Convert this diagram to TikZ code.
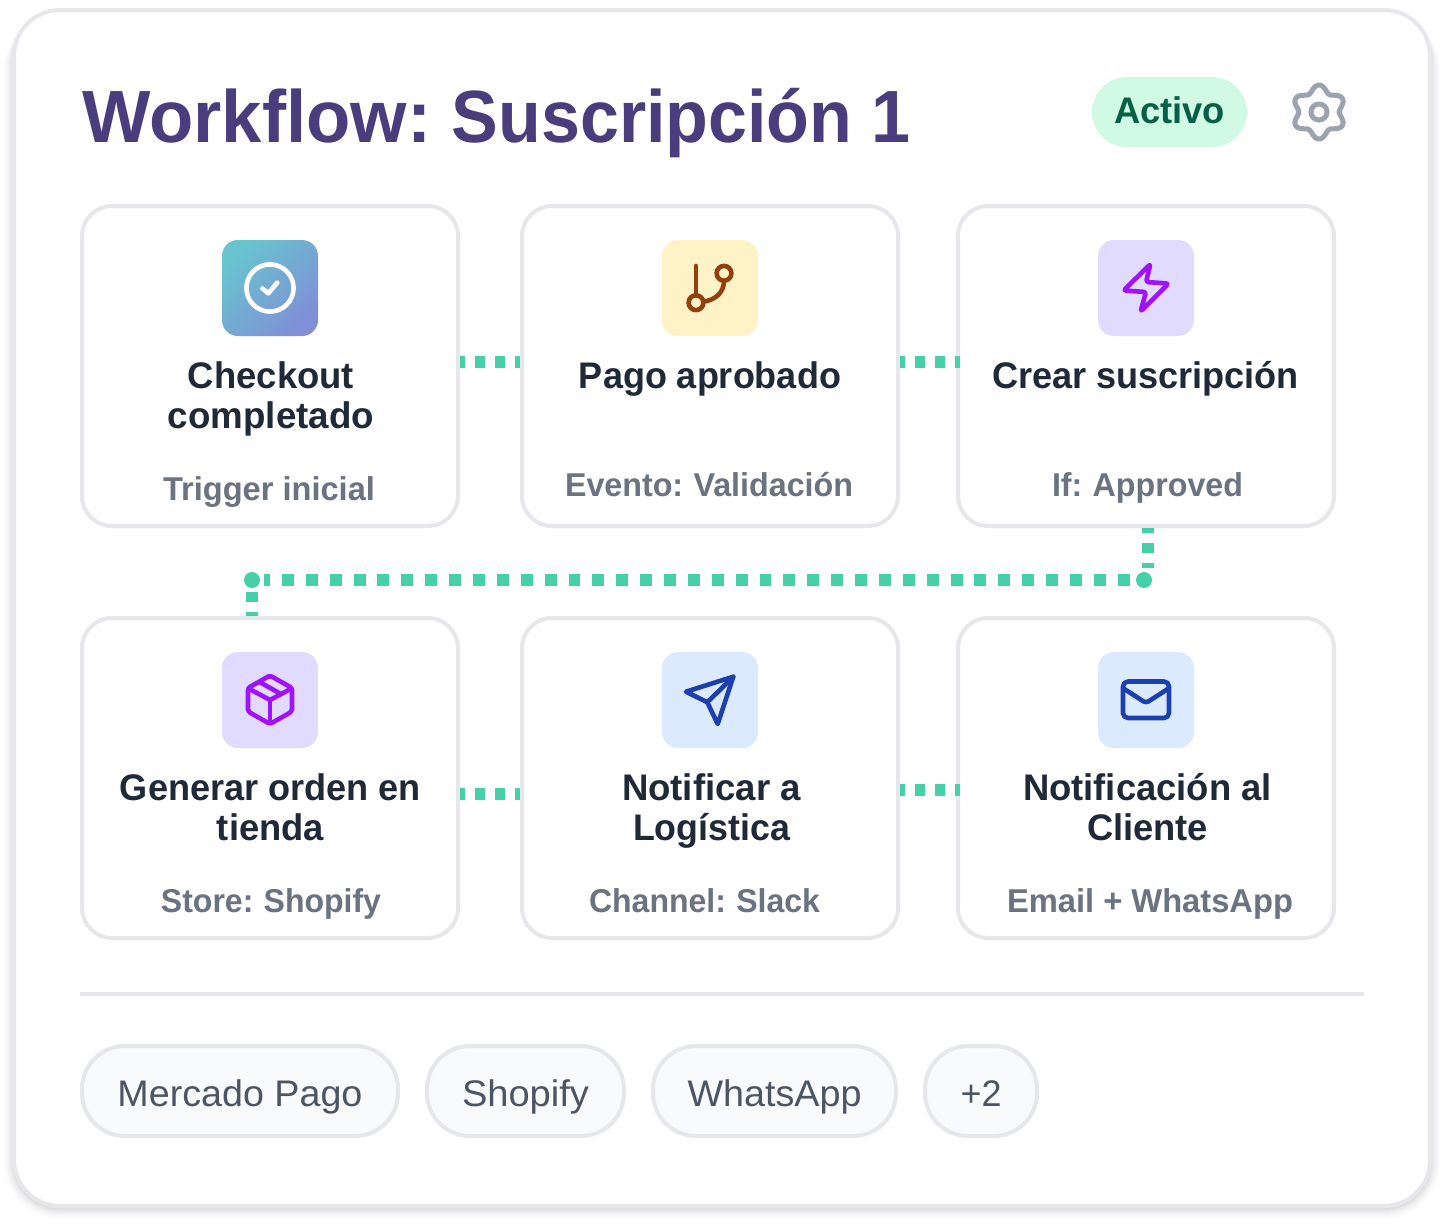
\documentclass[tikz,border=0pt]{standalone}
\usepackage{fontspec}
\usepackage{graphicx}
\setmainfont{Liberation Sans}
\newfontfamily\semi{Liberation Sans Bold}
\usetikzlibrary{calc}
\definecolor{line}{HTML}{E5E7EB}
\definecolor{tagfill}{HTML}{F9FAFB}
\definecolor{flow}{HTML}{46D0A9}
\definecolor{heading}{HTML}{4A3D7E}
\definecolor{ink}{HTML}{1F2937}
\definecolor{muted}{HTML}{6B7280}
\definecolor{tagink}{HTML}{4B5563}
\definecolor{okbg}{HTML}{D1FAE5}
\definecolor{okink}{HTML}{065F46}
\definecolor{geargray}{HTML}{9CA3AF}
\definecolor{violetbg}{HTML}{E0DBFF}
\definecolor{violetic}{HTML}{A012F7}
\definecolor{bluebg}{HTML}{DBEAFE}
\definecolor{blueic}{HTML}{1E40AF}
\definecolor{amberbg}{HTML}{FEF3C7}
\definecolor{amberic}{HTML}{92400E}
\definecolor{gradA}{HTML}{68C4CF}
\definecolor{gradB}{HTML}{808FD6}
\newcommand{\fw}[2]{\resizebox{#1pt}{\height}{#2}}
\newcommand{\cl}{\kern-0.05em}
\tikzset{
  stepcard/.style={draw=line,line width=4pt,fill=white,rounded corners=30pt,minimum width=376pt,minimum height=320pt,inner sep=0pt,outer sep=2pt},
  iconbox/.style={rounded corners=16pt,minimum width=96pt,minimum height=96pt,inner sep=0pt,outer sep=0pt},
  steptitle/.style={anchor=base,align=center,inner sep=0pt,text=ink,font=\semi\fontsize{37}{40}\selectfont},
  stepsub/.style={anchor=base,inner sep=0pt,text=muted,font=\semi\fontsize{33}{38}\selectfont},
  tagpill/.style={draw=line,line width=4pt,fill=tagfill,rounded corners=43pt,minimum height=90pt,inner sep=0pt,outer sep=2pt,text=tagink,font=\fontsize{37}{40}\selectfont,text height=36pt,text depth=6pt},
  flowdash/.style={draw=flow,line width=12pt,dash pattern=on 10pt off 10pt,dash phase=5pt},
  flowdot/.style={circle,fill=flow,minimum size=16pt,inner sep=0pt,outer sep=0pt},
  glyph/.style={line width=4.6pt,line cap=round,line join=round},
}
\begin{document}
\begin{tikzpicture}[x=1pt,y=-1pt]
\useasboundingbox (0,0) rectangle (1444,1224);
\fill[white] (0,0) rectangle (1444,1224);
% soft shadow
\foreach \g/\o in {8/0.015,6/0.02,4/0.025,2/0.03,0/0.04}{
  \fill[black,opacity=\o,rounded corners={48pt+\g pt}] (12-\g,8+6) rectangle (1432+\g,1208+\g+2);
}
% outer card
\node[draw=line,line width=4pt,fill=white,rounded corners=46pt,minimum width=1416pt,minimum height=1196pt,inner sep=0pt] (panel) at (722,608) {};
\node[anchor=base west,inner sep=0pt,text=heading,font=\semi\fontsize{74}{80}\selectfont] (wftitle) at (82,142) {\fw{349}{Workflow:} \fw{459}{Suscripción 1}};
\node[fill=okbg,rounded corners=35pt,minimum width=155pt,minimum height=70pt,inner sep=0pt,text=okink,font=\semi\fontsize{37}{40}\selectfont,text height=30pt,text depth=7pt] (status) at (1169.5,112) {\fw{111}{Activo}};
% gear
\coordinate (gear) at (1319,112);
\draw[geargray,line width=5pt,line join=round] plot[domain=0:360,samples=145,smooth] ({1319+(23.6-3.4*cos(6*\x))*cos(\x)},{112+(23.6-3.4*cos(6*\x))*sin(\x)}) -- cycle;
\draw[geargray,line width=5pt] (gear) circle (8pt);
% cards
\node[stepcard] (c1) at (270,366) {};
\node[stepcard] (c2) at (710,366) {};
\node[stepcard] (c3) at (1146,366) {};
\node[stepcard] (c4) at (270,778) {};
\node[stepcard] (c5) at (710,778) {};
\node[stepcard] (c6) at (1146,778) {};
% icon boxes
\node[iconbox,left color=gradA,right color=gradB,shading angle=45] (i1) at (270,288) {};
\node[iconbox,fill=amberbg] (i2) at (710,288) {};
\node[iconbox,fill=violetbg] (i3) at (1146,288) {};
\node[iconbox,fill=violetbg] (i4) at (270,700) {};
\node[iconbox,fill=bluebg] (i5) at (710,700) {};
\node[iconbox,fill=bluebg] (i6) at (1146,700) {};
% check icon
\draw[white,glyph] (i1) circle (23.6pt);
\draw[white,glyph] (262.5,288.5) -- (268.3,293.3) -- (277.3,282.7);
% branch icon
\draw[amberic,glyph] (696,266) -- (696,295);
\draw[amberic,glyph] (696,302.7) circle (7.4pt);
\draw[amberic,glyph] (724,273.3) circle (7.4pt);
\draw[amberic,glyph] (724,280.7) .. controls (724,292) and (716,300) .. (703.4,301.6);
% bolt icon
\draw[violetic,glyph,rounded corners=2.5pt] (1150.5,264) -- (1123.5,290.5) -- (1146,292) -- (1140.5,311.5) -- (1168.5,283.5) -- (1146,282) -- cycle;
% box icon
\draw[violetic,glyph,rounded corners=2pt] (270,675.5) -- (292,688) -- (292,711.5) -- (270,724) -- (248,711.5) -- (248,688) -- cycle;
\draw[violetic,glyph] (248.5,688.5) -- (270,700) -- (291.5,688.5);
\draw[violetic,glyph] (270,700) -- (270,723);
\draw[violetic,glyph] (259.5,682) -- (281,694);
% send icon
\draw[blueic,glyph] (733.3,676.7) -- (686,691.7) -- (707.3,702.3) -- (717.7,724) -- cycle;
\draw[blueic,glyph] (707.3,702.3) -- (733.3,676.7);
% mail icon
\draw[blueic,glyph,rounded corners=5pt] (1123,681.5) rectangle (1169,718);
\draw[blueic,glyph,rounded corners=3pt] (1123.5,688.5) -- (1146,703) -- (1168.5,688.5);
% connectors
\draw[flowdash] ([yshift=4pt]c1.east) -- ([yshift=4pt]c2.west);
\draw[flowdash] ([yshift=4pt]c2.east) -- ([yshift=4pt,xshift=4pt]c3.west);
\draw[flowdash] ([yshift=-16pt]c4.east) -- ([yshift=-16pt]c5.west);
\draw[flowdash] ([yshift=-12pt]c5.east) -- ([yshift=-12pt,xshift=4pt]c6.west);
\node[flowdot] (j1) at (1144,580) {};
\node[flowdot] (j2) at (252,580) {};
\draw[flowdash] ([xshift=2pt]c3.south) -- ([xshift=4pt,yshift=12pt]j1.center);
\draw[flow,line width=12pt,dash pattern=on 11.94pt off 11.94pt,dash phase=5.94pt] ([xshift=12pt]j2.center) -- (j1.center);
\draw[flow,line width=12pt,dash pattern=on 10pt off 10pt] ([yshift=-12pt]j2.center) -- (j2.center |- c4.north);
% step labels
\node[steptitle] (t1) at (271,428) {\fw{166}{Checkout}\\\fw{206}{completado}};
\node[steptitle] (t2) at (710,388) {\fw{262}{Pago aprobado}};
\node[steptitle] (t3) at (1145.5,388) {\fw{307}{Crear suscripción}};
\node[steptitle] (t4) at (270.5,840) {\fw{301}{Generar orden en}\\\fw{107}{tienda}};
\node[steptitle] (t5) at (711.5,840) {\fw{179}{Notificar a}\\\fw{157}{Logística}};
\node[steptitle] (t6) at (1147.5,840) {\fw{249}{Notificación al}\\\fw{121}{Cliente}};
\node[stepsub] (s1) at (269,500) {\fw{212}{Trigger inicial}};
\node[stepsub] (s2) at (709,496) {\fw{288}{Evento:\cl{} Validación}};
\node[stepsub] (s3) at (1147.5,496) {\fw{191}{If:\cl{} Approved}};
\node[stepsub] (s4) at (271,912) {\fw{220}{Store:\cl{} Shopify}};
\node[stepsub] (s5) at (704.5,912) {\fw{231}{Channel:\cl{} Slack}};
\node[stepsub] (s6) at (1150,912) {\fw{286}{Email + WhatsApp}};
% divider
\coordinate (dl) at (80,994);
\coordinate (dr) at (1364,994);
\draw[line,line width=4pt] (dl) -- (dr);
% tags
\node[tagpill,minimum width=316pt] (g1) at (240,1091) {\fw{245}{Mercado Pago}};
\node[tagpill,minimum width=197pt] (g2) at (525.5,1091) {\fw{127}{Shopify}};
\node[tagpill,minimum width=243pt] (g3) at (774.5,1091) {\fw{174}{WhatsApp}};
\node[tagpill,minimum width=112pt] (g4) at (981,1091) {\fw{41}{+2}};
\end{tikzpicture}
\end{document}
